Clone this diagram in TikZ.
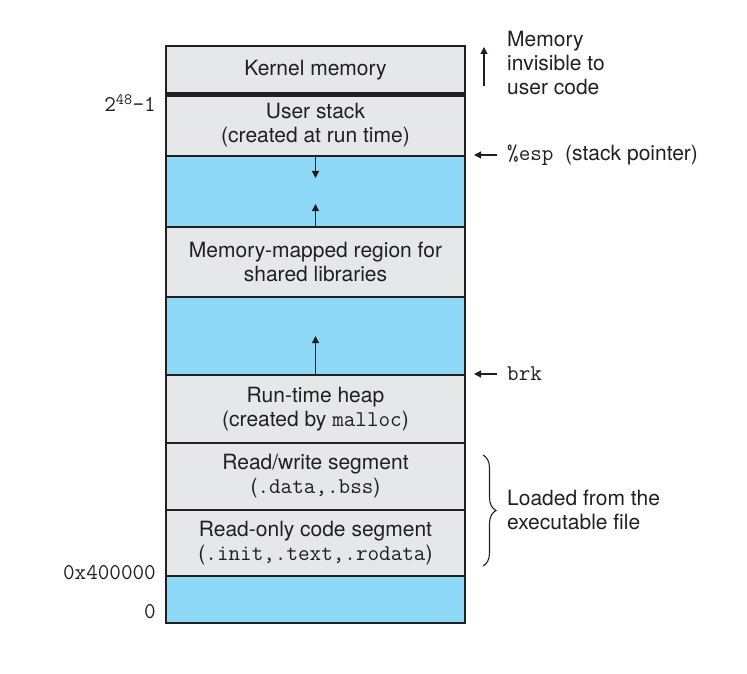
\documentclass[tikz,border=0pt]{standalone}
\usepackage{fontspec}
\setmainfont{TeX Gyre Heros}
\usetikzlibrary{arrows.meta,decorations.pathreplacing}
\definecolor{segfill}{HTML}{E6E7E8}
\definecolor{gapfill}{HTML}{8ED8F8}
\definecolor{linec}{HTML}{231F20}
\newcommand{\code}[1]{{\fontsize{22.5}{24}\selectfont\ttfamily #1}}
\tikzset{
  seg/.style={draw=linec, line width=1.6pt, fill=segfill, minimum width=299pt,
    inner sep=0pt, align=center, anchor=north, text=linec},
  gap/.style={seg, fill=gapfill},
  lbl/.style={inner sep=0pt, align=left, anchor=west, text=linec},
  addr/.style={inner sep=0pt, anchor=east, text=linec,
    font=\fontsize{22.5}{24}\selectfont\ttfamily},
  growarrow/.style={draw=linec, line width=1.2pt, -{Triangle[length=7pt,width=7pt]}}
}
\begin{document}
\begin{tikzpicture}[x=1pt, y=-1pt, font=\fontsize{21}{24}\selectfont]
\useasboundingbox (0,0) rectangle (747,674);
% memory regions
\node[seg, minimum height=48pt] (kernel) at (315.5,45) {Kernel memory};
\node[seg, minimum height=62pt] (stack) at (315.5,93) {User stack\\(created at run time)};
\node[gap, minimum height=71pt] (gap1) at (315.5,155) {};
\node[seg, minimum height=70pt] (mmap) at (315.5,226) {Memory-mapped region for\\shared libraries};
\node[gap, minimum height=78pt] (gap2) at (315.5,296) {};
\node[seg, minimum height=68pt] (heap) at (315.5,374) {Run-time heap\\(created by \code{malloc})};
\node[seg, minimum height=67pt] (rw) at (315.5,442) {Read/write segment\\(\code{.data,.bss})};
\node[seg, minimum height=66pt] (ro) at (315.5,509) {Read-only code segment\\(\code{.init,.text,.rodata})};
\node[gap, minimum height=47pt] (gap3) at (315.5,575) {};
\path[draw=linec, line width=4.5pt] (kernel.south west) -- (kernel.south east);
% growth arrows
\coordinate (stackend) at (315.5,178);
\coordinate (mmapend) at (315.5,204);
\coordinate (heapend) at (315.5,336);
\path[growarrow] (gap1.north) -- (stackend);
\path[growarrow] (mmap.north) -- (mmapend);
\path[growarrow] (heap.north) -- (heapend);
% addresses
\node[addr] (top) at (156,103) {2\textsuperscript{48}-1};
\node[addr] (start) at (156,573) {0x400000};
\node[addr] (zero) at (156,612) {0};
% right-hand notes
\node[lbl] (invis) at (507,63) {Memory\\invisible to\\user code};
\coordinate (invtail) at (484,86);
\coordinate (invhead) at (484,47);
\path[growarrow] (invtail) -- (invhead);
\node[lbl] (esp) at (507,155) {\code{\%esp}\ \ (stack pointer)};
\coordinate (esptip) at (474,155);
\path[growarrow, shorten <=10pt] (esp.west) -- (esptip);
\node[lbl] (brk) at (507,374) {\code{brk}};
\coordinate (brktip) at (474,374);
\path[growarrow, shorten <=10pt] (brk.west) -- (brktip);
\node[lbl] (loaded) at (507,510) {Loaded from the\\executable file};
\coordinate (bracetop) at (483,455);
\coordinate (bracebot) at (483,566);
\path[draw=linec, line width=1.1pt, decorate,
  decoration={brace, amplitude=13pt}] (bracetop) -- (bracebot);
\end{tikzpicture}
\end{document}
